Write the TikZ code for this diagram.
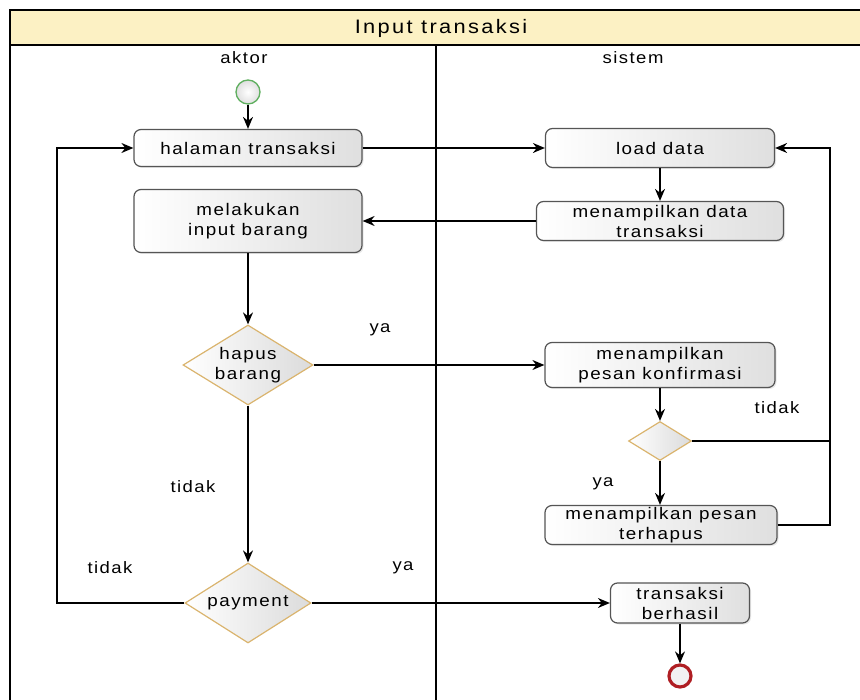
\documentclass[tikz,border=0pt]{standalone}
\usepackage{fontspec}
\setmainfont{Liberation Sans}[FakeStretch=1.12,LetterSpace=9]
\newfontfamily\titlefont{Liberation Sans}[FakeStretch=1.12,LetterSpace=12]
\usetikzlibrary{arrows.meta,shapes.geometric,shadows}
\definecolor{hdr}{RGB}{252,241,196}
\definecolor{boxline}{RGB}{85,85,85}
\definecolor{dline}{RGB}{218,180,110}
\definecolor{startc}{RGB}{95,175,95}
\definecolor{endc}{RGB}{175,30,35}
\tikzset{
  act/.style={draw=boxline, line width=1.2pt, rounded corners=7pt,
    left color=white, right color=gray!25, align=center, inner sep=0pt,
    font=\fontsize{16.8}{20}\selectfont,
    drop shadow={opacity=0.18, shadow xshift=1.5pt, shadow yshift=-1.5pt}},
  dec/.style={diamond, draw=dline, line width=1.2pt, inner sep=0pt,
    left color=white, right color=gray!28},
  dectext/.style={align=center, font=\fontsize{16.8}{20}\selectfont},
  lbl/.style={font=\fontsize{16.5}{20}\selectfont},
  flow/.style={-{Stealth[length=12pt,width=10pt]}, line width=1.4pt},
  plain/.style={line width=1.4pt},
}
\begin{document}
\begin{tikzpicture}[x=1pt,y=-1pt]
\useasboundingbox (0,0) rectangle (860,700);
\clip (0,0) rectangle (860,700);

% swimlane frame
\fill[hdr] (10,10) rectangle (875,45);
\draw[line width=1.2pt] (10,10) rectangle (875,715);
\draw[line width=1.2pt] (10,45) -- (875,45);
\draw[line width=1.2pt] (436,45) -- (436,715);
\node[font=\titlefont\fontsize{19.5}{22}\selectfont] (title) at (441,28) {Input transaksi};
\node[lbl] (laneA) at (244,58) {aktor};
\node[lbl] (laneB) at (633,58) {sistem};

% start and end
\node[circle, draw=startc, line width=1.3pt, inner color=white, outer color=gray!25,
      minimum size=24pt, inner sep=0pt] (start) at (248,92) {};
\node[circle, draw=endc, line width=3.2pt, fill=gray!10,
      minimum size=22pt, inner sep=0pt] (end) at (680,676) {};

% actions
\node[act, minimum width=228pt, minimum height=37pt] (halaman) at (248,148) {halaman transaksi};
\node[act, minimum width=228pt, minimum height=63pt] (input) at (248,221) {melakukan\\input barang};
\node[act, minimum width=229pt, minimum height=39pt] (load) at (660,148) {load data};
\node[act, minimum width=247pt, minimum height=39pt] (mdata) at (660,221) {menampilkan data\\transaksi};
\node[act, minimum width=230pt, minimum height=45pt] (konf) at (660,365) {menampilkan\\pesan konfirmasi};
\node[act, minimum width=232pt, minimum height=39pt] (terhapus) at (661,525) {menampilkan pesan\\terhapus};
\node[act, minimum width=139pt, minimum height=40pt] (berhasil) at (680,603) {transaksi\\berhasil};

% decisions
\node[dec, minimum width=130pt, minimum height=80pt] (hapus) at (248,365) {};
\node[dectext] (hapusT) at (hapus.center) {hapus\\barang};
\node[dec, minimum width=63pt, minimum height=39pt] (cek) at (660,441) {};
\node[dec, minimum width=126pt, minimum height=80pt] (payment) at (248,603) {};
\node[dectext] (paymentT) at (payment.center) {payment};

% guard labels
\node[lbl] (g1) at (380,330) {ya};
\node[lbl] (g2) at (777,408) {tidak};
\node[lbl] (g3) at (603,484) {ya};
\node[lbl] (g4) at (193,487) {tidak};
\node[lbl] (g5) at (110,568) {tidak};
\node[lbl] (g6) at (403,568) {ya};

% loop rails
\coordinate (rx) at (830,0);
\coordinate (lx) at (57,0);

% flows
\draw[flow] (start) -- (halaman);
\draw[flow] (halaman) -- (load);
\draw[flow] (load) -- (mdata);
\draw[flow] (mdata.west) -- (mdata.west -| input.east);
\draw[flow] (input) -- (hapus);
\draw[flow] (hapus.east) -- (konf.west);
\draw[flow] (konf) -- (cek);
\draw[flow] (cek.south) -- (cek.south |- terhapus.north);
\draw[flow] (cek.east) -- (cek.east -| rx) |- (load.east);
\draw[plain] (terhapus.east) -- (terhapus.east -| rx) -- (cek.east -| rx);
\draw[flow] (hapus) -- (payment);
\draw[flow] (payment.east) -- (berhasil.west);
\draw[flow] (payment.west) -- (payment.west -| lx) |- (halaman.west);
\draw[flow] (berhasil) -- (end);
\end{tikzpicture}
\end{document}
